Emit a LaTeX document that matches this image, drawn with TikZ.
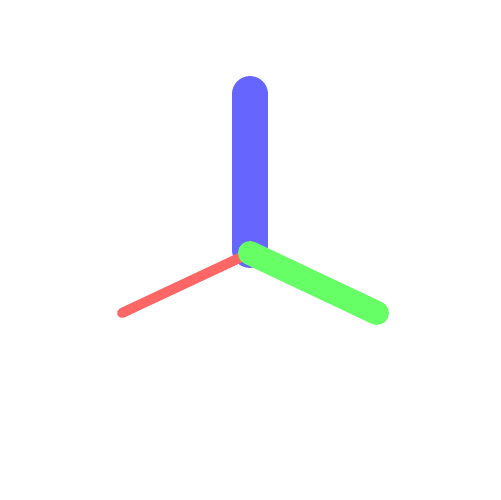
\documentclass[tikz,border=0pt]{standalone}
\usepackage{xcolor}
\usepackage{tikz}
\usetikzlibrary{calc}

\definecolor{axisx}{HTML}{FF6666}
\definecolor{axisy}{HTML}{66FF66}
\definecolor{axisz}{HTML}{6666FF}

\begin{document}
\begin{tikzpicture}[
  x=0.02cm, y=-0.02cm,
  axis/.style={line cap=round},
  xaxis/.style={axis, draw=axisx, line width=5.7pt},
  yaxis/.style={axis, draw=axisy, line width=13.6pt},
  zaxis/.style={axis, draw=axisz, line width=20.4pt}
]
  \useasboundingbox (0,0) rectangle (500,500);
  \coordinate (origin) at (250,250);
  \coordinate (xend) at (122,313);
  \coordinate (yend) at (377,313);
  \coordinate (zend) at (250,94);

  \draw[zaxis] (origin) -- (zend);
  \draw[xaxis] ($(origin)+(0,3)$) -- (xend);
  \draw[yaxis] ($(origin)+(0,3)$) -- (yend);
\end{tikzpicture}
\end{document}
